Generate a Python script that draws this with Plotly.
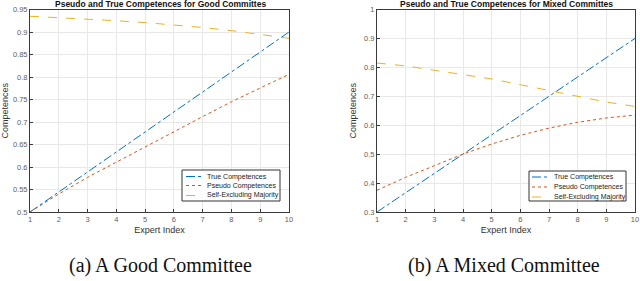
import plotly.graph_objects as go

experts = [1, 2, 3, 4, 5, 6, 7, 8, 9, 10]

# (a) Good committee
good_true = [0.5, 0.5444, 0.5889, 0.6333, 0.6778, 0.7222, 0.7667, 0.8111, 0.8556, 0.9]
good_pseudo = [0.5, 0.540, 0.577, 0.611, 0.645, 0.678, 0.712, 0.745, 0.776, 0.806]
good_self = [0.935, 0.932, 0.929, 0.925, 0.921, 0.916, 0.910, 0.903, 0.895, 0.886]

# (b) Mixed committee
mixed_true = [0.3, 0.3667, 0.4333, 0.5, 0.5667, 0.6333, 0.7, 0.7667, 0.8333, 0.9]
mixed_pseudo = [0.375, 0.42, 0.46, 0.50, 0.535, 0.565, 0.59, 0.61, 0.625, 0.635]
mixed_self = [0.815, 0.805, 0.79, 0.775, 0.76, 0.74, 0.72, 0.70, 0.68, 0.665]

names = ["True Competences", "Pseudo Competences", "Self-Excluding Majority"]
colors = ["#0072BD", "#D95319", "#EDB120"]
dashes = ["dashdot", "dot", "dash"]

W, H = 640, 281


def px(x):
    return x / W


def py(y):
    return (H - y) / H


fig = go.Figure()

for series, xa, ya in [
    ([good_true, good_pseudo, good_self], "x", "y"),
    ([mixed_true, mixed_pseudo, mixed_self], "x2", "y2"),
]:
    for k in range(3):
        fig.add_trace(go.Scatter(
            x=experts, y=series[k], mode="lines", name=names[k],
            line=dict(color=colors[k], width=1, dash=dashes[k]),
            xaxis=xa, yaxis=ya, showlegend=False,
        ))

tick_font = dict(family="Liberation Sans, Arial", size=7.5, color="#606060")
title_font = dict(family="Liberation Sans, Arial", size=9, color="#333333")

axis_common = dict(
    showgrid=True, gridcolor="#e8e8e8", gridwidth=1,
    showline=True, linecolor="#3a3a3a", linewidth=1, mirror=True,
    ticks="inside", ticklen=3, tickcolor="#3a3a3a",
    tickfont=tick_font, zeroline=False, automargin=False,
)

ydom = [py(212), py(9.5)]

fig.update_layout(
    width=W, height=H,
    margin=dict(l=0, r=0, t=0, b=0),
    paper_bgcolor="white", plot_bgcolor="white",
    showlegend=False,
    xaxis=dict(domain=[px(30), px(289)], range=[1, 10], dtick=1, anchor="y",
               title=dict(text="Expert Index", standoff=3, font=title_font),
               **axis_common),
    yaxis=dict(domain=ydom, range=[0.5, 0.95], anchor="x",
               tickvals=[0.5, 0.55, 0.6, 0.65, 0.7, 0.75, 0.8, 0.85, 0.9, 0.95],
               ticktext=["0.5", "0.55", "0.6", "0.65", "0.7", "0.75", "0.8", "0.85", "0.9", "0.95"],
               title=dict(text="Competences", standoff=5, font=title_font),
               **axis_common),
    xaxis2=dict(domain=[px(377), px(635)], range=[1, 10], dtick=1, anchor="y2",
                title=dict(text="Expert Index", standoff=3, font=title_font),
                **axis_common),
    yaxis2=dict(domain=ydom, range=[0.3, 1.0], anchor="x2",
                tickvals=[0.3, 0.4, 0.5, 0.6, 0.7, 0.8, 0.9, 1.0],
                ticktext=["0.3", "0.4", "0.5", "0.6", "0.7", "0.8", "0.9", "1"],
                title=dict(text="Competences", standoff=5, font=title_font),
                **axis_common),
)

# Titles
fig.add_annotation(text="<b>Pseudo and True Competences for Good Committes</b>",
                   x=px(160), y=py(3.5), xref="paper", yref="paper",
                   xanchor="center", yanchor="middle", showarrow=False,
                   font=dict(family="Liberation Sans, Arial", size=8.5, color="#111"))
fig.add_annotation(text="<b>Pseudo and True Competences for Mixed Committes</b>",
                   x=px(506), y=py(3.5), xref="paper", yref="paper",
                   xanchor="center", yanchor="middle", showarrow=False,
                   font=dict(family="Liberation Sans, Arial", size=8.5, color="#111"))

# Captions
fig.add_annotation(text="(a) A Good Committee", x=px(160), y=py(265),
                   xref="paper", yref="paper", xanchor="center", yanchor="middle",
                   showarrow=False,
                   font=dict(family="Liberation Serif, Times New Roman", size=20, color="#111"))
fig.add_annotation(text="(b) A Mixed Committee", x=px(504), y=py(265),
                   xref="paper", yref="paper", xanchor="center", yanchor="middle",
                   showarrow=False,
                   font=dict(family="Liberation Serif, Times New Roman", size=20, color="#111"))

# Compact legends (MATLAB-style boxes)
legend_specs = [
    dict(box=(182, 170, 280, 201), line_x=(186, 203), text_x=205, rows=(176.5, 185.5, 195.5)),
    dict(box=(529, 171, 626, 201), line_x=(532, 550), text_x=552, rows=(177, 187, 197)),
]
for spec in legend_specs:
    x0, y0, x1, y1 = spec["box"]
    fig.add_shape(type="rect", xref="paper", yref="paper",
                  x0=px(x0), x1=px(x1), y0=py(y1), y1=py(y0),
                  line=dict(color="#333333", width=1), fillcolor="white", layer="above")
    for k in range(3):
        ry = spec["rows"][k]
        fig.add_shape(type="line", xref="paper", yref="paper",
                      x0=px(spec["line_x"][0]), x1=px(spec["line_x"][1]),
                      y0=py(ry), y1=py(ry),
                      line=dict(color=colors[k], width=1, dash=dashes[k]), layer="above")
        fig.add_annotation(text=names[k], x=px(spec["text_x"]), y=py(ry),
                           xref="paper", yref="paper", xanchor="left", yanchor="middle",
                           showarrow=False,
                           font=dict(family="Liberation Sans, Arial", size=7, color="#222"))

fig.write_html(
    "out.html",
    config={"displayModeBar": False},
    post_script="document.body.style.margin='0';document.body.style.padding='0';"
                "document.body.style.overflow='hidden';",
)
